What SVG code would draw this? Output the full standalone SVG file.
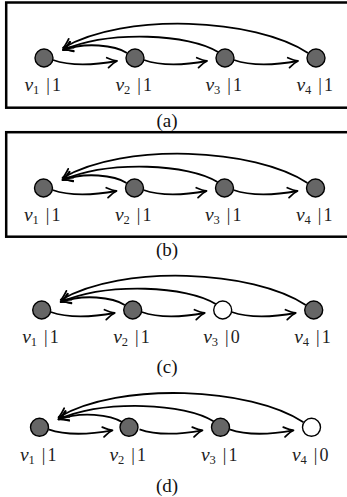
<svg xmlns="http://www.w3.org/2000/svg" width="347" height="497" viewBox="0 0 347 497">
<style>
.box{fill:none;stroke:#000;stroke-width:2.5}
.nd{fill:#666;stroke:#000;stroke-width:1.4}
.nw{fill:#fff;stroke:#000;stroke-width:1.4}
.e{fill:none;stroke:#000;stroke-width:1.8;marker-end:url(#ah)}
.lb{font-family:"Liberation Serif","Times New Roman",serif;font-size:18px;fill:#222}
.it{font-style:italic;font-size:19.5px}
.sb{font-size:12.5px}
.cap{font-family:"Liberation Serif","Times New Roman",serif;font-size:19px;fill:#111;text-anchor:middle}
</style>
<defs>
<marker id="ah" markerUnits="userSpaceOnUse" markerWidth="14" markerHeight="14" viewBox="-11 -7 13 14" refX="0" refY="0" orient="auto">
<path d="M-9.5,-5 Q-3.5,-0.9 0,0 Q-3.5,0.9 -9.5,5" fill="none" stroke="#000" stroke-width="1.8" stroke-linecap="round" stroke-linejoin="round"/>
</marker>
</defs>
<rect class="box" x="6.2" y="2.5" width="350" height="105.2"/>
<rect class="box" x="6.2" y="132.2" width="350" height="104.5"/>
<!-- panel a -->
<g id="panel-a" transform="translate(44,58)">
<g id="a-edges">
<path class="e" d="M9,2 C26,8 51,7 73,3"/>
<path class="e" d="M100,2 C117,8 141,7 163,3"/>
<path class="e" d="M190,2 C207,8 232,7 254,3"/>
<path class="e" d="M83,-5 C71,-13 41,-16 19,-8"/>
<path class="e" d="M174,-6 C146,-24 66,-28 19,-8"/>
<path class="e" d="M264,-5 C211,-40 81,-46 19,-10"/>
</g>
<g id="a-v1"><circle class="nd" cx="0" cy="0" r="9"/><text class="lb" y="33"><tspan class="it" x="-19.5">v</tspan><tspan class="sb" x="-11" y="35.5">1</tspan><tspan x="2.3" y="33">|</tspan><tspan x="8">1</tspan></text></g>
<g id="a-v2"><circle class="nd" cx="91" cy="0" r="9"/><text class="lb" y="33"><tspan class="it" x="71.5">v</tspan><tspan class="sb" x="80" y="35.5">2</tspan><tspan x="93.3" y="33">|</tspan><tspan x="99">1</tspan></text></g>
<g id="a-v3"><circle class="nd" cx="181" cy="0" r="9"/><text class="lb" y="33"><tspan class="it" x="161.5">v</tspan><tspan class="sb" x="170" y="35.5">3</tspan><tspan x="183.3" y="33">|</tspan><tspan x="189">1</tspan></text></g>
<g id="a-v4"><circle class="nd" cx="272" cy="0" r="9"/><text class="lb" y="33"><tspan class="it" x="252.5">v</tspan><tspan class="sb" x="261" y="35.5">4</tspan><tspan x="274.3" y="33">|</tspan><tspan x="280">1</tspan></text></g>
</g>
<text class="cap" x="167" y="126.5">(a)</text>
<!-- panel b -->
<g id="panel-b" transform="translate(43.5,188)">
<g id="b-edges">
<path class="e" d="M9,2 C26,8 51,7 73,3"/>
<path class="e" d="M100,2 C117,8 141,7 163,3"/>
<path class="e" d="M190,2 C207,8 232,7 254,3"/>
<path class="e" d="M83,-5 C71,-13 41,-16 19,-8"/>
<path class="e" d="M174,-6 C146,-24 66,-28 19,-8"/>
<path class="e" d="M264,-5 C211,-40 81,-46 19,-10"/>
</g>
<g id="b-v1"><circle class="nd" cx="0" cy="0" r="9"/><text class="lb" y="33"><tspan class="it" x="-19.5">v</tspan><tspan class="sb" x="-11" y="35.5">1</tspan><tspan x="2.3" y="33">|</tspan><tspan x="8">1</tspan></text></g>
<g id="b-v2"><circle class="nd" cx="91" cy="0" r="9"/><text class="lb" y="33"><tspan class="it" x="71.5">v</tspan><tspan class="sb" x="80" y="35.5">2</tspan><tspan x="93.3" y="33">|</tspan><tspan x="99">1</tspan></text></g>
<g id="b-v3"><circle class="nd" cx="181" cy="0" r="9"/><text class="lb" y="33"><tspan class="it" x="161.5">v</tspan><tspan class="sb" x="170" y="35.5">3</tspan><tspan x="183.3" y="33">|</tspan><tspan x="189">1</tspan></text></g>
<g id="b-v4"><circle class="nd" cx="272" cy="0" r="9"/><text class="lb" y="33"><tspan class="it" x="252.5">v</tspan><tspan class="sb" x="261" y="35.5">4</tspan><tspan x="274.3" y="33">|</tspan><tspan x="280">1</tspan></text></g>
</g>
<text class="cap" x="167" y="255.5">(b)</text>
<!-- panel c -->
<g id="panel-c" transform="translate(41.7,310)">
<g id="c-edges">
<path class="e" d="M9,2 C26,8 51,7 73,3"/>
<path class="e" d="M100,2 C117,8 141,7 163,3"/>
<path class="e" d="M190,2 C207,8 232,7 254,3"/>
<path class="e" d="M83,-5 C71,-13 41,-16 19,-8"/>
<path class="e" d="M174,-6 C146,-24 66,-28 19,-8"/>
<path class="e" d="M264,-5 C211,-40 81,-46 19,-10"/>
</g>
<g id="c-v1"><circle class="nd" cx="0" cy="0" r="9"/><text class="lb" y="33"><tspan class="it" x="-19.5">v</tspan><tspan class="sb" x="-11" y="35.5">1</tspan><tspan x="2.3" y="33">|</tspan><tspan x="8">1</tspan></text></g>
<g id="c-v2"><circle class="nd" cx="91" cy="0" r="9"/><text class="lb" y="33"><tspan class="it" x="71.5">v</tspan><tspan class="sb" x="80" y="35.5">2</tspan><tspan x="93.3" y="33">|</tspan><tspan x="99">1</tspan></text></g>
<g id="c-v3"><circle class="nw" cx="181" cy="0" r="9"/><text class="lb" y="33"><tspan class="it" x="161.5">v</tspan><tspan class="sb" x="170" y="35.5">3</tspan><tspan x="183.3" y="33">|</tspan><tspan x="189">0</tspan></text></g>
<g id="c-v4"><circle class="nd" cx="272" cy="0" r="9"/><text class="lb" y="33"><tspan class="it" x="252.5">v</tspan><tspan class="sb" x="261" y="35.5">4</tspan><tspan x="274.3" y="33">|</tspan><tspan x="280">1</tspan></text></g>
</g>
<text class="cap" x="167" y="373">(c)</text>
<!-- panel d -->
<g id="panel-d" transform="translate(39.5,427.3)">
<g id="d-edges">
<path class="e" d="M9,2 C26,8 51,7 73,3"/>
<path class="e" d="M100,2 C117,8 141,7 163,3"/>
<path class="e" d="M190,2 C207,8 232,7 254,3"/>
<path class="e" d="M83,-5 C71,-13 41,-16 19,-8"/>
<path class="e" d="M174,-6 C146,-24 66,-28 19,-8"/>
<path class="e" d="M264,-5 C211,-40 81,-46 19,-10"/>
</g>
<g id="d-v1"><circle class="nd" cx="0" cy="0" r="9"/><text class="lb" y="34"><tspan class="it" x="-19.5">v</tspan><tspan class="sb" x="-11" y="36.5">1</tspan><tspan x="2.3" y="34">|</tspan><tspan x="8">1</tspan></text></g>
<g id="d-v2"><circle class="nd" cx="89.5" cy="0" r="9"/><text class="lb" y="34"><tspan class="it" x="70">v</tspan><tspan class="sb" x="78.5" y="36.5">2</tspan><tspan x="91.8" y="34">|</tspan><tspan x="97.5">1</tspan></text></g>
<g id="d-v3"><circle class="nd" cx="181" cy="0" r="9"/><text class="lb" y="34"><tspan class="it" x="161.5">v</tspan><tspan class="sb" x="170" y="36.5">3</tspan><tspan x="183.3" y="34">|</tspan><tspan x="189">1</tspan></text></g>
<g id="d-v4"><circle class="nw" cx="272" cy="0" r="9"/><text class="lb" y="34"><tspan class="it" x="252.5">v</tspan><tspan class="sb" x="261" y="36.5">4</tspan><tspan x="274.3" y="34">|</tspan><tspan x="280">0</tspan></text></g>
</g>
<text class="cap" x="167" y="491.5">(d)</text>
</svg>
